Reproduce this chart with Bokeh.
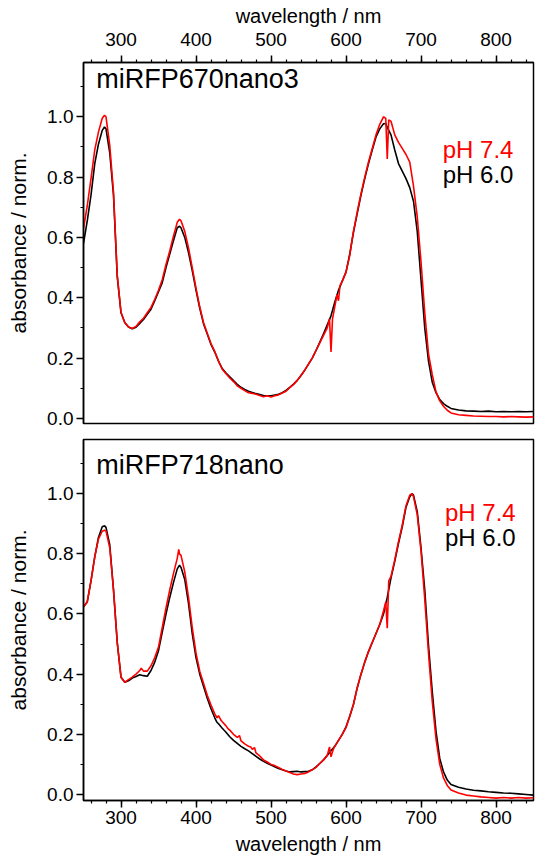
from bokeh.plotting import figure
from bokeh.models import Range1d, FixedTicker, PrintfTickFormatter, Label
from bokeh.layouts import column
from bokeh.embed import file_html
from bokeh.resources import INLINE

# ---------------- data (wavelength nm, normalized absorbance) ----------------
TOP_TITLE = "miRFP670nano3"
BOTTOM_TITLE = "miRFP718nano"
LEGEND = ["pH 7.4", "pH 6.0"]

TOP_PH60 = [
    (250, 0.58), (255, 0.655), (260, 0.74), (265, 0.845), (270, 0.91), (275, 0.955),
    (278, 0.966), (280, 0.96), (285, 0.88), (290, 0.74), (295, 0.47), (300, 0.35),
    (305, 0.318), (310, 0.303), (315, 0.297), (320, 0.302), (325, 0.315), (330, 0.328),
    (335, 0.345), (340, 0.362), (345, 0.39), (350, 0.42), (355, 0.45), (360, 0.5),
    (365, 0.545), (370, 0.59), (375, 0.632), (378, 0.637), (380, 0.632), (385, 0.6),
    (390, 0.55), (395, 0.49), (400, 0.425), (405, 0.365), (410, 0.314), (415, 0.28),
    (420, 0.245), (425, 0.22), (430, 0.19), (435, 0.165), (440, 0.15), (445, 0.138),
    (450, 0.125), (455, 0.113), (460, 0.103), (465, 0.096), (470, 0.09), (475, 0.086),
    (480, 0.082), (485, 0.079), (490, 0.076), (495, 0.075), (500, 0.075), (505, 0.077),
    (510, 0.08), (515, 0.085), (520, 0.093), (525, 0.103), (530, 0.114), (535, 0.126),
    (540, 0.142), (545, 0.16), (550, 0.18), (555, 0.2), (560, 0.225), (565, 0.252),
    (570, 0.28), (575, 0.31), (580, 0.34), (585, 0.385), (590, 0.425), (595, 0.455),
    (600, 0.485), (605, 0.545), (610, 0.618), (615, 0.68), (620, 0.74), (625, 0.795),
    (630, 0.845), (635, 0.89), (640, 0.933), (645, 0.96), (650, 0.977), (653, 0.978),
    (655, 0.965), (660, 0.94), (665, 0.89), (670, 0.845), (675, 0.82), (680, 0.795),
    (685, 0.765), (690, 0.72), (695, 0.62), (700, 0.46), (705, 0.3), (710, 0.19),
    (715, 0.12), (720, 0.085), (725, 0.062), (730, 0.049), (735, 0.04), (740, 0.033),
    (750, 0.028), (760, 0.025), (770, 0.024), (780, 0.023), (790, 0.024), (800, 0.022),
    (810, 0.023), (820, 0.022), (830, 0.023), (840, 0.022), (850, 0.023),
]

TOP_PH74 = [
    (250, 0.63), (255, 0.705), (260, 0.795), (265, 0.89), (270, 0.95), (275, 0.995),
    (278, 1.005), (280, 1.0), (285, 0.905), (290, 0.75), (295, 0.475), (300, 0.352),
    (305, 0.318), (310, 0.303), (315, 0.298), (320, 0.305), (325, 0.32), (330, 0.332),
    (335, 0.35), (340, 0.368), (345, 0.395), (350, 0.425), (355, 0.46), (360, 0.51),
    (365, 0.555), (370, 0.605), (375, 0.65), (378, 0.66), (380, 0.655), (385, 0.62),
    (390, 0.565), (395, 0.5), (400, 0.432), (405, 0.37), (410, 0.318), (415, 0.282),
    (420, 0.248), (425, 0.222), (430, 0.19), (435, 0.163), (440, 0.148), (445, 0.134),
    (450, 0.122), (455, 0.108), (460, 0.1), (465, 0.092), (470, 0.085), (475, 0.083),
    (480, 0.08), (485, 0.076), (490, 0.072), (495, 0.075), (500, 0.071), (505, 0.075),
    (510, 0.078), (515, 0.084), (520, 0.09), (525, 0.102), (530, 0.112), (535, 0.126),
    (540, 0.142), (545, 0.16), (550, 0.18), (555, 0.2), (560, 0.225), (565, 0.25),
    (570, 0.275), (575, 0.3), (578, 0.33), (580, 0.22), (582, 0.33), (585, 0.37),
    (588, 0.41), (590, 0.39), (592, 0.44), (595, 0.455), (600, 0.485), (605, 0.54),
    (608, 0.59), (610, 0.62), (615, 0.685), (620, 0.745), (625, 0.8), (630, 0.85),
    (635, 0.895), (640, 0.94), (645, 0.975), (650, 1.0), (653, 0.995), (655, 0.86),
    (657, 0.99), (660, 0.985), (665, 0.94), (670, 0.915), (675, 0.895), (680, 0.875),
    (685, 0.85), (690, 0.77), (695, 0.668), (700, 0.52), (705, 0.35), (710, 0.214),
    (715, 0.145), (720, 0.088), (725, 0.058), (730, 0.04), (735, 0.027), (740, 0.018),
    (750, 0.012), (760, 0.01), (770, 0.008), (780, 0.007), (790, 0.006), (800, 0.006),
    (810, 0.005), (820, 0.006), (830, 0.005), (840, 0.004), (850, 0.005),
]

BOTTOM_PH60 = [
    (250, 0.624), (255, 0.64), (260, 0.71), (265, 0.79), (270, 0.855), (275, 0.89),
    (278, 0.893), (280, 0.888), (285, 0.83), (290, 0.68), (295, 0.505), (300, 0.39),
    (305, 0.373), (310, 0.378), (315, 0.387), (320, 0.392), (325, 0.398), (330, 0.395),
    (335, 0.393), (340, 0.412), (345, 0.44), (350, 0.478), (355, 0.54), (360, 0.6),
    (365, 0.655), (370, 0.705), (375, 0.75), (378, 0.762), (380, 0.755), (385, 0.715),
    (390, 0.635), (395, 0.535), (400, 0.455), (405, 0.4), (410, 0.36), (415, 0.32),
    (420, 0.285), (425, 0.255), (428, 0.24), (430, 0.235), (435, 0.22), (440, 0.207),
    (445, 0.192), (450, 0.18), (455, 0.17), (460, 0.16), (465, 0.152), (470, 0.145),
    (475, 0.136), (480, 0.127), (485, 0.118), (490, 0.11), (495, 0.104), (500, 0.098),
    (505, 0.092), (510, 0.086), (515, 0.082), (520, 0.078), (525, 0.075), (530, 0.076),
    (535, 0.077), (540, 0.075), (545, 0.076), (550, 0.077), (555, 0.082), (560, 0.092),
    (565, 0.103), (570, 0.115), (575, 0.13), (580, 0.145), (585, 0.16), (590, 0.18),
    (595, 0.2), (600, 0.225), (605, 0.26), (610, 0.3), (615, 0.355), (620, 0.4),
    (625, 0.44), (630, 0.475), (635, 0.505), (640, 0.535), (645, 0.565), (650, 0.6),
    (655, 0.655), (660, 0.72), (665, 0.775), (670, 0.835), (675, 0.89), (680, 0.955),
    (685, 0.99), (688, 1.0), (690, 0.995), (695, 0.94), (700, 0.82), (705, 0.68),
    (710, 0.495), (715, 0.342), (720, 0.21), (725, 0.12), (730, 0.075), (735, 0.048),
    (740, 0.033), (750, 0.024), (760, 0.018), (770, 0.014), (780, 0.012), (790, 0.009),
    (800, 0.007), (810, 0.005), (820, 0.004), (830, 0.002), (840, 0.0), (850, -0.002),
]

BOTTOM_PH74 = [
    (250, 0.624), (255, 0.64), (260, 0.71), (265, 0.79), (270, 0.85), (275, 0.875),
    (278, 0.878), (280, 0.876), (285, 0.82), (290, 0.68), (295, 0.505), (300, 0.39),
    (305, 0.373), (310, 0.382), (315, 0.39), (320, 0.4), (325, 0.412), (327, 0.42),
    (330, 0.41), (335, 0.41), (340, 0.428), (345, 0.455), (350, 0.49), (355, 0.555),
    (360, 0.62), (365, 0.68), (370, 0.735), (375, 0.785), (377, 0.815), (378, 0.8),
    (380, 0.795), (385, 0.74), (390, 0.655), (395, 0.555), (400, 0.47), (405, 0.41),
    (410, 0.37), (415, 0.33), (420, 0.297), (425, 0.268), (428, 0.255), (430, 0.262),
    (433, 0.248), (435, 0.242), (440, 0.228), (443, 0.218), (445, 0.214), (450, 0.2),
    (455, 0.19), (458, 0.196), (460, 0.178), (465, 0.168), (470, 0.16), (473, 0.158),
    (475, 0.15), (478, 0.156), (480, 0.138), (485, 0.128), (490, 0.115), (495, 0.108),
    (500, 0.1), (505, 0.096), (510, 0.09), (515, 0.083), (520, 0.078), (525, 0.073),
    (530, 0.068), (535, 0.066), (540, 0.068), (545, 0.07), (550, 0.075), (555, 0.082),
    (560, 0.09), (565, 0.103), (570, 0.115), (575, 0.13), (578, 0.158), (580, 0.125),
    (583, 0.15), (585, 0.16), (590, 0.18), (595, 0.2), (600, 0.222), (605, 0.26),
    (610, 0.3), (615, 0.355), (620, 0.4), (625, 0.44), (630, 0.475), (635, 0.505),
    (640, 0.535), (645, 0.565), (650, 0.61), (653, 0.64), (655, 0.553), (657, 0.71),
    (660, 0.725), (665, 0.78), (670, 0.84), (675, 0.895), (680, 0.96), (685, 0.995),
    (688, 1.0), (690, 0.99), (695, 0.93), (700, 0.81), (705, 0.65), (710, 0.47),
    (715, 0.31), (720, 0.185), (725, 0.1), (730, 0.055), (735, 0.03), (740, 0.015),
    (750, 0.005), (760, -0.002), (770, -0.005), (780, -0.008), (790, -0.01),
    (800, -0.012), (810, -0.01), (820, -0.012), (830, -0.01), (840, -0.012), (850, -0.011),
]

X_MAJOR = [300, 400, 500, 600, 700, 800]
X_MINOR = [260, 280, 300, 320, 340, 360, 380, 400, 420, 440, 460, 480, 500, 520, 540,
           560, 580, 600, 620, 640, 660, 680, 700, 720, 740, 760, 780, 800, 820, 840]
Y_MAJOR = [0.0, 0.2, 0.4, 0.6, 0.8, 1.0]
Y_MINOR = [0.0, 0.1, 0.2, 0.3, 0.4, 0.5, 0.6, 0.7, 0.8, 0.9, 1.0, 1.1]

FONT = "Liberation Sans"


def style_axis(ax, label_size, label_standoff, axis_standoff):
    ax.axis_line_color = "black"
    ax.axis_line_width = 1.5
    ax.major_tick_line_color = "black"
    ax.major_tick_line_width = 1.5
    ax.major_tick_in = 0
    ax.major_tick_out = 7
    ax.minor_tick_line_color = "black"
    ax.minor_tick_line_width = 1.2
    ax.minor_tick_in = 0
    ax.minor_tick_out = 3
    ax.major_label_text_font = FONT
    ax.major_label_text_font_size = "19px"
    ax.major_label_text_color = "black"
    ax.major_label_standoff = label_standoff
    ax.axis_label_text_font = FONT
    ax.axis_label_text_font_size = label_size
    ax.axis_label_text_font_style = "normal"
    ax.axis_label_text_color = "black"
    ax.axis_label_standoff = axis_standoff


def panel(title, black, red, y_lo, x_loc, border_top, border_bottom,
          title_xy, leg_x, leg_y):
    p = figure(frame_width=450, frame_height=361,
               x_range=Range1d(250, 850), y_range=Range1d(y_lo, 1.18),
               x_axis_location=x_loc, output_backend="svg", toolbar_location=None,
               min_border_left=83, min_border_right=9,
               min_border_top=border_top, min_border_bottom=border_bottom)
    p.grid.visible = False
    p.outline_line_color = "black"
    p.outline_line_width = 1.5
    p.outline_line_alpha = 1.0
    p.background_fill_color = "white"
    p.border_fill_color = "white"

    xa = p.xaxis[0]
    xa.ticker = FixedTicker(ticks=X_MAJOR, minor_ticks=X_MINOR)
    xa.axis_label = "wavelength / nm"
    if x_loc == "above":
        style_axis(xa, "20px", 10, 3)
    else:
        style_axis(xa, "20px", 3, 6)
    ya = p.yaxis[0]
    ya.ticker = FixedTicker(ticks=Y_MAJOR, minor_ticks=Y_MINOR)
    ya.formatter = PrintfTickFormatter(format="%.1f")
    ya.axis_label = "absorbance / norm."
    style_axis(ya, "21px", 3, 14)

    p.line([w for w, _ in black], [v for _, v in black], color="black", line_width=1.6)
    p.line([w for w, _ in red], [v for _, v in red], color="#ff0000", line_width=1.6)

    p.add_layout(Label(x=title_xy[0], y=title_xy[1], text=title, text_font=FONT,
                       text_font_size="27px", text_color="black",
                       text_baseline="alphabetic"))
    p.add_layout(Label(x=leg_x, y=leg_y[0], text=LEGEND[0], text_font=FONT,
                       text_font_size="24px", text_color="#ff0000",
                       text_baseline="alphabetic"))
    p.add_layout(Label(x=leg_x, y=leg_y[1], text=LEGEND[1], text_font=FONT,
                       text_font_size="24px", text_color="black",
                       text_baseline="alphabetic"))
    return p


p1 = panel(TOP_TITLE, TOP_PH60, TOP_PH74, -0.017, "above", 62, 8,
           (267, 1.126), 729, (0.893, 0.81))
p2 = panel(BOTTOM_TITLE, BOTTOM_PH60, BOTTOM_PH74, -0.02, "below", 8, 50,
           (267, 1.096), 732, (0.938, 0.855))

layout = column(p1, p2, spacing=0)
open("out.html", "w").write(file_html(layout, INLINE))
